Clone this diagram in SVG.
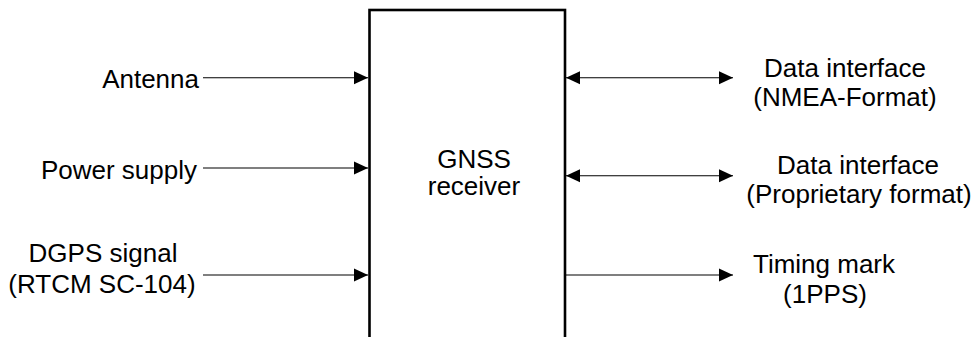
<svg xmlns="http://www.w3.org/2000/svg" width="978" height="337" viewBox="0 0 978 337">
  <style>
    text { font-family: "Liberation Sans", Arial, sans-serif; font-size: 26px; fill: #000; }
    .conn { stroke: #000; stroke-width: 1.1; fill: none; }
    .box { fill: #fff; stroke: #000; stroke-width: 2.6; }
  </style>
  <defs>
    <marker id="ah" markerUnits="userSpaceOnUse" markerWidth="14" markerHeight="14" viewBox="0 0 13 12" refX="13" refY="6" orient="auto-start-reverse">
      <path d="M0,0 L13,6 L0,12 Z" fill="#000"/>
    </marker>
  </defs>

  <g id="receiver">
    <rect class="box" x="369.5" y="10" width="195.5" height="340"/>
    <text x="474" y="168" text-anchor="middle">GNSS</text>
    <text x="474" y="195" text-anchor="middle">receiver</text>
  </g>

  <g id="antenna">
    <text x="199" y="88" text-anchor="end">Antenna</text>
  </g>
  <g id="power">
    <text x="197" y="179" text-anchor="end">Power supply</text>
  </g>
  <g id="dgps">
    <text x="103" y="262" text-anchor="middle">DGPS signal</text>
    <text x="102" y="293" text-anchor="middle">(RTCM SC-104)</text>
  </g>
  <g id="nmea">
    <text x="845" y="77" text-anchor="middle">Data interface</text>
    <text x="845" y="106" text-anchor="middle">(NMEA-Format)</text>
  </g>
  <g id="proprietary">
    <text x="858" y="174" text-anchor="middle">Data interface</text>
    <text x="859" y="203" text-anchor="middle">(Proprietary format)</text>
  </g>
  <g id="timing">
    <text x="824" y="273" text-anchor="middle">Timing mark</text>
    <text x="825" y="303" text-anchor="middle">(1PPS)</text>
  </g>

  <g id="connectors">
    <line class="conn" x1="203" y1="77.7" x2="368" y2="77.7" marker-end="url(#ah)"/>
    <line class="conn" x1="203" y1="168" x2="368" y2="168" marker-end="url(#ah)"/>
    <line class="conn" x1="203" y1="275" x2="368" y2="275" marker-end="url(#ah)"/>
    <line class="conn" x1="566" y1="77.7" x2="733" y2="77.7" marker-start="url(#ah)" marker-end="url(#ah)"/>
    <line class="conn" x1="566" y1="175.7" x2="733" y2="175.7" marker-start="url(#ah)" marker-end="url(#ah)"/>
    <line class="conn" x1="566" y1="275" x2="733" y2="275" marker-end="url(#ah)"/>
  </g>
</svg>
